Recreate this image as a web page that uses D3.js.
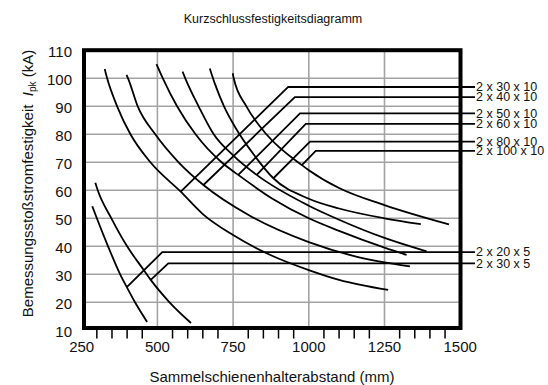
<!DOCTYPE html>
<html><head><meta charset="utf-8">
<script src="https://cdn.jsdelivr.net/npm/d3@7"></script>
<style>
html,body{margin:0;padding:0;background:#fff;}
svg{display:block;font-family:"Liberation Sans",Arial,Helvetica,sans-serif;}
</style></head>
<body><svg id="c" width="548" height="385"></svg>
<script>
// ---- data ----
const chartTitle = "Kurzschlussfestigkeitsdiagramm";
const xTitle = "Sammelschienenhalterabstand (mm)";
const yTitleMain = "Bemessungsstoßstromfestigkeit";
const xTickValues = [250, 500, 750, 1000, 1250, 1500];
const yTickValues = [10, 20, 30, 40, 50, 60, 70, 80, 90, 100, 110];

const seriesNames = ["2 x 30 x 10","2 x 40 x 10","2 x 50 x 10","2 x 60 x 10","2 x 80 x 10","2 x 100 x 10","2 x 20 x 5","2 x 30 x 5"];

// [Sammelschienenhalterabstand mm, Ipk kA]
const bar30x10  = [[326,103.3],[334,100],[367,90],[411,80],[477,70],[577,59.5],[650,51.5],[750,44],[875,36.8],[1000,31.5],[1100,28],[1262,24.4]];
const bar40x10  = [[398,101.2],[403,100],[435,90],[493,80],[570,70],[652,61.9],[804,51],[1000,41.5],[1150,36.5],[1334,32.8]];
const bar50x10  = [[497,105.1],[518,100],[565,90],[626,80],[712,70],[767,65.5],[880,57],[1000,50],[1100,45.5],[1250,39.5],[1323,36.9]];
const bar60x10  = [[583,102.4],[592,100],[636,90],[686,80],[750,72.5],[828,65.5],[1000,54.5],[1100,49.5],[1250,43],[1389,38.2]];
const bar80x10  = [[673,103.5],[690,98],[720,90],[760,82],[820,72.5],[883,64.3],[1000,57],[1100,53.5],[1250,50],[1370,47.9]];
const bar100x10 = [[749,101.8],[752,100],[794,90],[860,80],[977,69],[1000,67.2],[1100,60.8],[1250,54.7],[1463,47.8]];
const bar20x5   = [[285,54.3],[300,50],[337,40],[377,30],[399,25.4],[426,20],[466,13]];
const bar30x5   = [[295,62.7],[303,60],[348,50],[400,40],[455,31.5],[478,28],[540,20],[611,12.6]];
const seriesValues = [bar30x10, bar40x10, bar50x10, bar60x10, bar80x10, bar100x10, bar20x5, bar30x5];

// label leader lines: start on curve [mm,kA], knee [mm,kA]; then horizontal to the label
const leaderStart = [[577,59.5],[652,61.9],[767,65.5],[828,65.5],[883,64.3],[977,69],[399,25.4],[478,28]];
const leaderKnee  = [[932,96.9],[954,93.3],[971,87.5],[990,83.7],[1004,77.4],[1023,74.1],[516,37.9],[536,33.9]];
const leaderEndX = 1549;

// ---- drawing ----
const svg = d3.select("#c");
const x = d3.scaleLinear().domain([250,1500]).range([81.7,460.2]);
const y = d3.scaleLinear().domain([10,110]).range([330.3,50.3]);
const frame = {l:84, r:460.5, t:50.2, b:328};

// grid
const g = svg.append("g");
g.selectAll("line.vg").data(xTickValues.slice(1,-1)).join("line")
  .attr("x1",d=>x(d)).attr("x2",d=>x(d)).attr("y1",frame.t).attr("y2",frame.b)
  .attr("stroke","#a3a3a3").attr("stroke-width",1.6);
g.selectAll("line.hg").data(yTickValues.slice(1,-1)).join("line")
  .attr("y1",d=>y(d)).attr("y2",d=>y(d)).attr("x1",frame.l).attr("x2",frame.r)
  .attr("stroke","#a3a3a3").attr("stroke-width",1.6);

// minor ticks below the x axis
const minor = d3.range(300,1500,50).filter(v=>v%250!==0);
svg.selectAll("line.mt").data(minor).join("line")
  .attr("x1",d=>x(d)).attr("x2",d=>x(d)).attr("y1",frame.b).attr("y2",338.5)
  .attr("stroke","#000").attr("stroke-width",1.5);

// curves
const line = d3.line().x(d=>x(d[0])).y(d=>y(d[1])).curve(d3.curveMonotoneX);
svg.selectAll("path.curve").data(seriesValues).join("path")
  .attr("d",line).attr("fill","none").attr("stroke","#000").attr("stroke-width",1.8);

// leader lines
const leaders = seriesNames.map((n,i)=>[leaderStart[i], leaderKnee[i], [leaderEndX, leaderKnee[i][1]]]);
const lline = d3.line().x(d=>x(d[0])).y(d=>y(d[1]));
svg.selectAll("path.leader").data(leaders).join("path")
  .attr("d",lline).attr("fill","none").attr("stroke","#000").attr("stroke-width",1.8);

// labels
svg.selectAll("text.lab").data(seriesNames).join("text")
  .attr("x",x(leaderEndX)+1).attr("y",(d,i)=>y(leaderKnee[i][1])+4.3)
  .attr("font-size","12.5px").attr("fill","#111").text(d=>d);

// frame
svg.append("rect").attr("x",frame.l).attr("y",frame.t)
  .attr("width",frame.r-frame.l).attr("height",frame.b-frame.t)
  .attr("fill","none").attr("stroke","#000").attr("stroke-width",4);

// tick labels
svg.selectAll("text.xt").data(xTickValues).join("text")
  .attr("x",d=>x(d)).attr("y",352).attr("text-anchor","middle")
  .attr("font-size","15px").attr("fill","#111").text(d=>d);
svg.selectAll("text.yt").data(yTickValues).join("text")
  .attr("x",72).attr("y",d=>y(d)+6.5).attr("text-anchor","end")
  .attr("font-size","15px").attr("fill","#111").text(d=>d);

// titles
svg.append("text").attr("x",273).attr("y",23).attr("text-anchor","middle")
  .attr("font-size","12.5px").attr("fill","#111").text(chartTitle);
svg.append("text").attr("x",272).attr("y",381.5).attr("text-anchor","middle")
  .attr("font-size","15px").attr("fill","#111").text(xTitle);
const yt = svg.append("text").attr("transform","translate(33,183.5) rotate(-90)")
  .attr("text-anchor","middle").attr("font-size","15px").attr("fill","#111");
yt.append("tspan").text(yTitleMain + "\u00a0\u00a0");
yt.append("tspan").attr("font-style","italic").text("I");
yt.append("tspan").attr("font-size","10px").attr("dy",3).text("pk");
yt.append("tspan").attr("dy",-3).text(" (kA)");
</script></body></html>
